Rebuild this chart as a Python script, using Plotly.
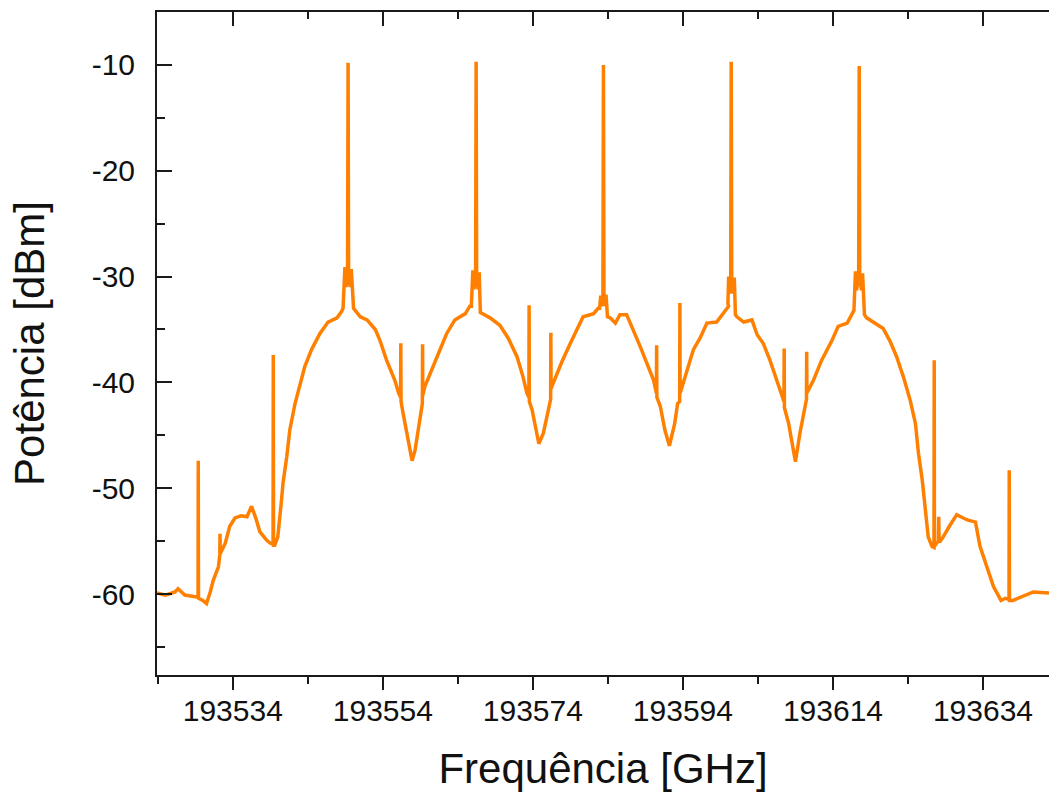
import plotly.graph_objects as go

# Optical spectrum (frequency in GHz, power in dBm)
freq_ghz = [
    193523.9, 193525.0, 193526.3, 193526.7, 193527.6, 193529.0,
    193529.37, 193529.4, 193529.43,
    193530.0, 193530.5, 193531.0, 193531.4, 193532.1,
    193532.27, 193532.3, 193532.33,
    193533.0, 193533.6, 193534.3, 193535.1, 193535.9, 193536.5, 193537.1,
    193537.6, 193538.5, 193539.0,
    193539.37, 193539.4, 193539.43,
    193539.6, 193540.0, 193540.5, 193540.7, 193541.2, 193541.6, 193542.3,
    193543.0, 193543.6, 193544.5, 193545.6, 193546.7, 193547.9, 193548.5,
    # carrier 1
    193548.7, 193548.95, 193549.1, 193549.3, 193549.37, 193549.44, 193549.65, 193549.8, 193550.0,
    193550.1, 193551.0, 193551.9, 193553.0, 193553.6, 193554.5, 193555.6, 193556.1,
    193556.37, 193556.4, 193556.43,
    193556.7, 193557.4, 193557.9, 193558.3, 193559.0,
    193559.27, 193559.3, 193559.33,
    193559.6, 193560.5, 193561.4, 193562.5, 193563.6, 193565.0, 193565.6,
    # carrier 2
    193565.8, 193566.0, 193566.15, 193566.37, 193566.44, 193566.51, 193566.7, 193566.85, 193567.0,
    193568.3, 193569.6, 193570.7, 193571.9, 193572.7, 193573.2,
    193573.47, 193573.5, 193573.53,
    193573.9, 193574.5, 193574.8, 193575.4, 193576.1,
    193576.37, 193576.4, 193576.43,
    193576.7, 193577.9, 193579.0, 193580.1, 193580.7, 193582.1, 193582.7,
    # carrier 3
    193582.9, 193583.05, 193583.2, 193583.34, 193583.41, 193583.48, 193583.6, 193583.75, 193583.95,
    193584.3, 193585.0, 193585.6, 193586.5, 193587.4, 193588.3, 193589.2, 193590.1, 193590.4,
    193590.47, 193590.5, 193590.53,
    193591.0, 193591.6, 193592.2, 193592.9, 193593.3,
    193593.57, 193593.6, 193593.63,
    193593.9, 193594.7, 193595.4, 193596.3, 193597.2, 193598.5, 193599.4, 193600.1,
    # carrier 4
    193600.0, 193600.1, 193600.2, 193600.37, 193600.44, 193600.51, 193600.7, 193600.85, 193601.0,
    193601.2, 193602.1, 193603.2, 193603.9, 193604.7, 193605.6, 193606.5, 193607.2,
    193607.47, 193607.5, 193607.53,
    193608.1, 193609.0, 193609.6, 193610.3,
    193610.47, 193610.5, 193610.53,
    193611.4, 193612.5, 193613.9, 193614.7, 193615.9, 193616.7,
    # carrier 5
    193616.8, 193617.0, 193617.15, 193617.43, 193617.5, 193617.57, 193617.8, 193617.95, 193618.2,
    193618.5, 193619.6, 193620.7, 193621.6, 193622.5, 193623.4, 193624.3, 193625.0, 193625.4,
    193625.9, 193626.3, 193626.7, 193627.2,
    193627.47, 193627.5, 193627.53,
    193627.8, 193628.05, 193628.1, 193628.15, 193628.3, 193628.7, 193629.6, 193630.5,
    193631.9, 193633.0, 193633.6, 193634.5, 193635.4, 193636.4, 193637.0,
    193637.47, 193637.5, 193637.53,
    193638.0, 193639.0, 193640.7, 193642.8,
]

power_dbm = [
    -59.9, -60.1, -59.8, -59.5, -60.1, -60.2,
    -60.3, -47.4, -60.4,
    -60.6, -60.9, -59.8, -58.7, -57.4,
    -56.3, -54.3, -56.2,
    -55.2, -53.6, -52.8, -52.6, -52.7, -51.7, -52.9,
    -54.1, -54.9, -55.2,
    -55.3, -37.4, -55.4,
    -55.4, -54.6, -51.1, -49.5, -47.0, -44.5, -42.0,
    -40.1, -38.5, -36.9, -35.4, -34.3, -33.9, -33.3,
    # carrier 1
    -33.0, -29.1, -31.0, -29.6, -9.8, -29.6, -31.0, -29.3, -32.6,
    -33.0, -33.8, -34.1, -35.0, -36.0, -37.9, -39.8, -41.0,
    -41.4, -36.3, -41.8,
    -42.9, -45.4, -47.4, -46.4, -43.5,
    -42.0, -36.4, -41.2,
    -40.4, -38.8, -37.3, -35.4, -34.1, -33.5, -32.8,
    # carrier 2
    -32.8, -29.4, -31.2, -29.8, -9.7, -29.8, -31.2, -29.6, -33.4,
    -33.9, -34.6, -35.8, -37.6, -39.5, -41.0,
    -41.4, -32.7, -41.8,
    -42.6, -44.8, -45.8, -44.8, -42.3,
    -41.6, -35.3, -40.6,
    -40.1, -38.0, -36.3, -34.6, -33.8, -33.5, -33.0,
    # carrier 3
    -33.0, -31.8, -32.8, -31.9, -10.0, -31.9, -32.8, -31.7, -33.8,
    -33.9, -34.4, -33.6, -33.6, -35.0, -36.6, -38.2, -39.8, -40.8,
    -41.0, -36.5, -41.4,
    -42.3, -44.5, -46.0, -43.9, -42.0,
    -41.8, -32.5, -41.0,
    -40.4, -38.5, -36.9, -35.8, -34.4, -34.3, -33.5, -32.8,
    # carrier 4
    -32.6, -30.0, -31.6, -30.3, -9.7, -30.3, -31.6, -30.1, -33.6,
    -33.8, -34.3, -34.1, -35.5, -36.3, -37.9, -39.8, -41.4,
    -41.8, -36.8, -42.4,
    -43.9, -47.5, -44.8, -42.3,
    -41.6, -37.1, -41.0,
    -39.8, -37.9, -36.0, -34.7, -34.4, -33.3,
    # carrier 5
    -33.2, -29.5, -31.3, -29.9, -10.1, -29.9, -31.3, -29.7, -33.6,
    -33.9, -34.4, -34.9, -36.1, -37.6, -39.5, -41.7, -43.9, -46.7,
    -49.2, -51.7, -54.6, -55.5,
    -55.6, -37.9, -55.5,
    -55.2, -55.0, -52.7, -55.0, -55.0, -54.6, -53.5, -52.5,
    -53.0, -53.2, -55.5, -57.4, -59.3, -60.6, -60.4,
    -60.5, -48.3, -60.6,
    -60.6, -60.3, -59.8, -59.9,
]

x_tick_vals = [193534, 193554, 193574, 193594, 193614, 193634]
x_tick_text = ["193534", "193554", "193574", "193594", "193614", "193634"]
y_tick_vals = [-10, -20, -30, -40, -50, -60]
y_tick_text = ["-10", "-20", "-30", "-40", "-50", "-60"]

x_range = [193523.9, 193642.8]
y_range = [-67.65, -5.0]

font_family = "Liberation Sans, Arial, sans-serif"
axis_color = "#1a1a1a"

fig = go.Figure()
fig.add_trace(go.Scatter(
    x=freq_ghz, y=power_dbm, mode="lines",
    line=dict(color="#FF8000", width=3.5),
    hoverinfo="skip", showlegend=False,
))
# invisible trace so the mirrored top axis is drawn
fig.add_trace(go.Scatter(
    x=[x_range[0]], y=[y_range[0]], xaxis="x2", mode="markers",
    marker=dict(opacity=0), hoverinfo="skip", showlegend=False,
))

fig.update_layout(
    width=1049, height=794,
    margin=dict(l=157, r=0, t=12, b=119),
    paper_bgcolor="white", plot_bgcolor="white",
    font=dict(family=font_family, color="#111111"),
    xaxis=dict(
        range=x_range, showgrid=False, zeroline=False,
        showline=True, linecolor=axis_color, linewidth=2,
        ticks="outside", ticklen=13, tickwidth=2, tickcolor=axis_color,
        tickvals=x_tick_vals, ticktext=x_tick_text,
        tickfont=dict(size=30, family=font_family, color="#111111"),
        ticklabelstandoff=-5,
        minor=dict(ticks="outside", ticklen=7, tickwidth=2, tickcolor=axis_color,
                   tick0=193524, dtick=10, showgrid=False),
        title=dict(text="Frequência [GHz]", font=dict(size=42, family=font_family, color="#111111"),
                   standoff=28),
    ),
    xaxis2=dict(
        range=x_range, overlaying="x", side="top", showgrid=False, zeroline=False,
        showline=True, linecolor=axis_color, linewidth=2,
        ticks="inside", ticklen=14, tickwidth=2, tickcolor=axis_color,
        tickvals=x_tick_vals, showticklabels=False,
        minor=dict(ticks="inside", ticklen=7, tickwidth=2, tickcolor=axis_color,
                   tick0=193524, dtick=10, showgrid=False),
    ),
    yaxis=dict(
        range=y_range, showgrid=False, zeroline=False,
        showline=True, linecolor=axis_color, linewidth=2,
        ticks="inside", ticklen=15, tickwidth=2, tickcolor=axis_color,
        tickvals=y_tick_vals, ticktext=y_tick_text,
        tickfont=dict(size=30, family=font_family, color="#111111"),
        ticklabelstandoff=14,
        minor=dict(ticks="inside", ticklen=8, tickwidth=2, tickcolor=axis_color,
                   tick0=-65, dtick=5, showgrid=False),
        title=dict(text="Potência [dBm]", font=dict(size=42, family=font_family, color="#111111"),
                   standoff=34),
    ),
)

fig.write_html("out.html")
